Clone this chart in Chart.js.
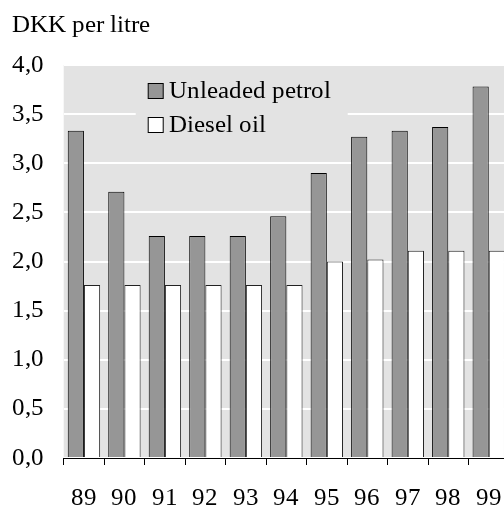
<!DOCTYPE html>
<html>
<head>
<meta charset="utf-8">
<script src="https://cdn.jsdelivr.net/npm/chart.js@4.4.1/dist/chart.umd.min.js"></script>
<style>
html,body{margin:0;padding:0;background:#fff;overflow:hidden;}
#wrap{position:relative;width:504px;height:508px;overflow:hidden;}
#c{position:absolute;left:0;top:0;}
</style>
</head>
<body>
<div id="wrap"><canvas id="c" width="511" height="508" style="width:511px;height:508px"></canvas></div>
<script>
const years = ['89','90','91','92','93','94','95','96','97','98','99'];
const unleadedPetrol = [3.33, 2.71, 2.26, 2.26, 2.26, 2.46, 2.90, 3.27, 3.33, 3.37, 3.78];
const dieselOil = [1.76, 1.76, 1.76, 1.76, 1.76, 1.76, 2.00, 2.02, 2.11, 2.11, 2.11];
const seriesLabels = ['Unleaded petrol', 'Diesel oil'];
const yTitle = 'DKK per litre';

const FONT = '"ChartSerif", "Liberation Serif", serif';

const plotBg = {
  id: 'plotBg',
  beforeDraw(chart) {
    const {ctx, chartArea: a} = chart;
    ctx.save();
    ctx.fillStyle = '#e3e3e3';
    ctx.fillRect(a.left, a.top, a.right - a.left, a.bottom - a.top);
    ctx.restore();
  }
};

const axisTitle = {
  id: 'axisTitle',
  afterDraw(chart) {
    const {ctx} = chart;
    ctx.save();
    ctx.font = '25px ' + FONT;
    ctx.fillStyle = '#000';
    ctx.textBaseline = 'alphabetic';
    ctx.textAlign = 'left';
    ctx.fillText(yTitle, 12, 32);
    ctx.restore();
  }
};

const innerLegend = {
  id: 'innerLegend',
  beforeDatasetsDraw(chart) {
    const {ctx, chartArea: a} = chart;
    ctx.save();
    ctx.fillStyle = '#e3e3e3';
    ctx.fillRect(a.left + 72, a.top + 6, 212, 74);
    ctx.restore();
  },
  afterDatasetsDraw(chart) {
    const {ctx, chartArea: a} = chart;
    ctx.save();
    ctx.font = '25px ' + FONT;
    ctx.textBaseline = 'middle';
    ctx.textAlign = 'left';
    chart.data.datasets.forEach((ds, i) => {
      const bx = a.left + 84.5, by = a.top + 18.5 + i * 34;
      ctx.fillStyle = ds.backgroundColor;
      ctx.fillRect(bx, by, 15, 15);
      ctx.strokeStyle = '#000';
      ctx.lineWidth = 1;
      ctx.strokeRect(bx, by, 15, 15);
      ctx.fillStyle = '#000';
      ctx.fillText(ds.label, bx + 21, by + 8);
    });
    ctx.restore();
  }
};

let chart = null;
function build() {
  if (chart) { chart.update('none'); return; }
  chart = new Chart(document.getElementById('c'), {
    type: 'bar',
    data: {
      labels: years,
      datasets: [
        {label: seriesLabels[0], data: unleadedPetrol, backgroundColor: '#969696', borderColor: '#000', borderWidth: 1, categoryPercentage: 0.8, barPercentage: 1.0},
        {label: seriesLabels[1], data: dieselOil, backgroundColor: '#ffffff', borderColor: '#222', borderWidth: 1, categoryPercentage: 0.8, barPercentage: 1.0}
      ]
    },
    options: {
      responsive: false,
      animation: false,
      layout: {padding: {left: -8.3, right: 2, top: 65, bottom: -24}},
      plugins: {
        legend: {display: false},
        tooltip: {enabled: false},
        title: {display: false}
      },
      scales: {
        x: {
          grid: {offset: true, drawOnChartArea: false, drawTicks: true, tickLength: 7, color: '#000', lineWidth: 1},
          border: {display: true, color: '#000', width: 1},
          ticks: {color: '#000', font: {family: FONT, size: 25, lineHeight: 2.68}, padding: 0, autoSkip: false, maxRotation: 0}
        },
        y: {
          min: 0, max: 4,
          grid: {color: '#ffffff', lineWidth: 2, drawTicks: false},
          border: {display: false},
          ticks: {stepSize: 0.5, color: '#000', padding: 20, font: {family: FONT, size: 25, lineHeight: 1.2},
            callback: v => Number(v).toFixed(1).replace('.', ',')}
        }
      }
    },
    plugins: [plotBg, innerLegend, axisTitle]
  });
}

let started = false;
function go() { started = true; build(); }
try {
  const ff = new FontFace('ChartSerif', 'local("Liberation Serif"), local("LiberationSerif"), local("Liberation Serif Regular"), local("LiberationSerif-Regular"), local("Times New Roman")');
  document.fonts.add(ff);
  ff.load().then(go, go);
} catch (e) { go(); }
setTimeout(() => { if (!started) go(); }, 150);
setTimeout(() => { if (chart) chart.update('none'); }, 400);
</script>
</body>
</html>
